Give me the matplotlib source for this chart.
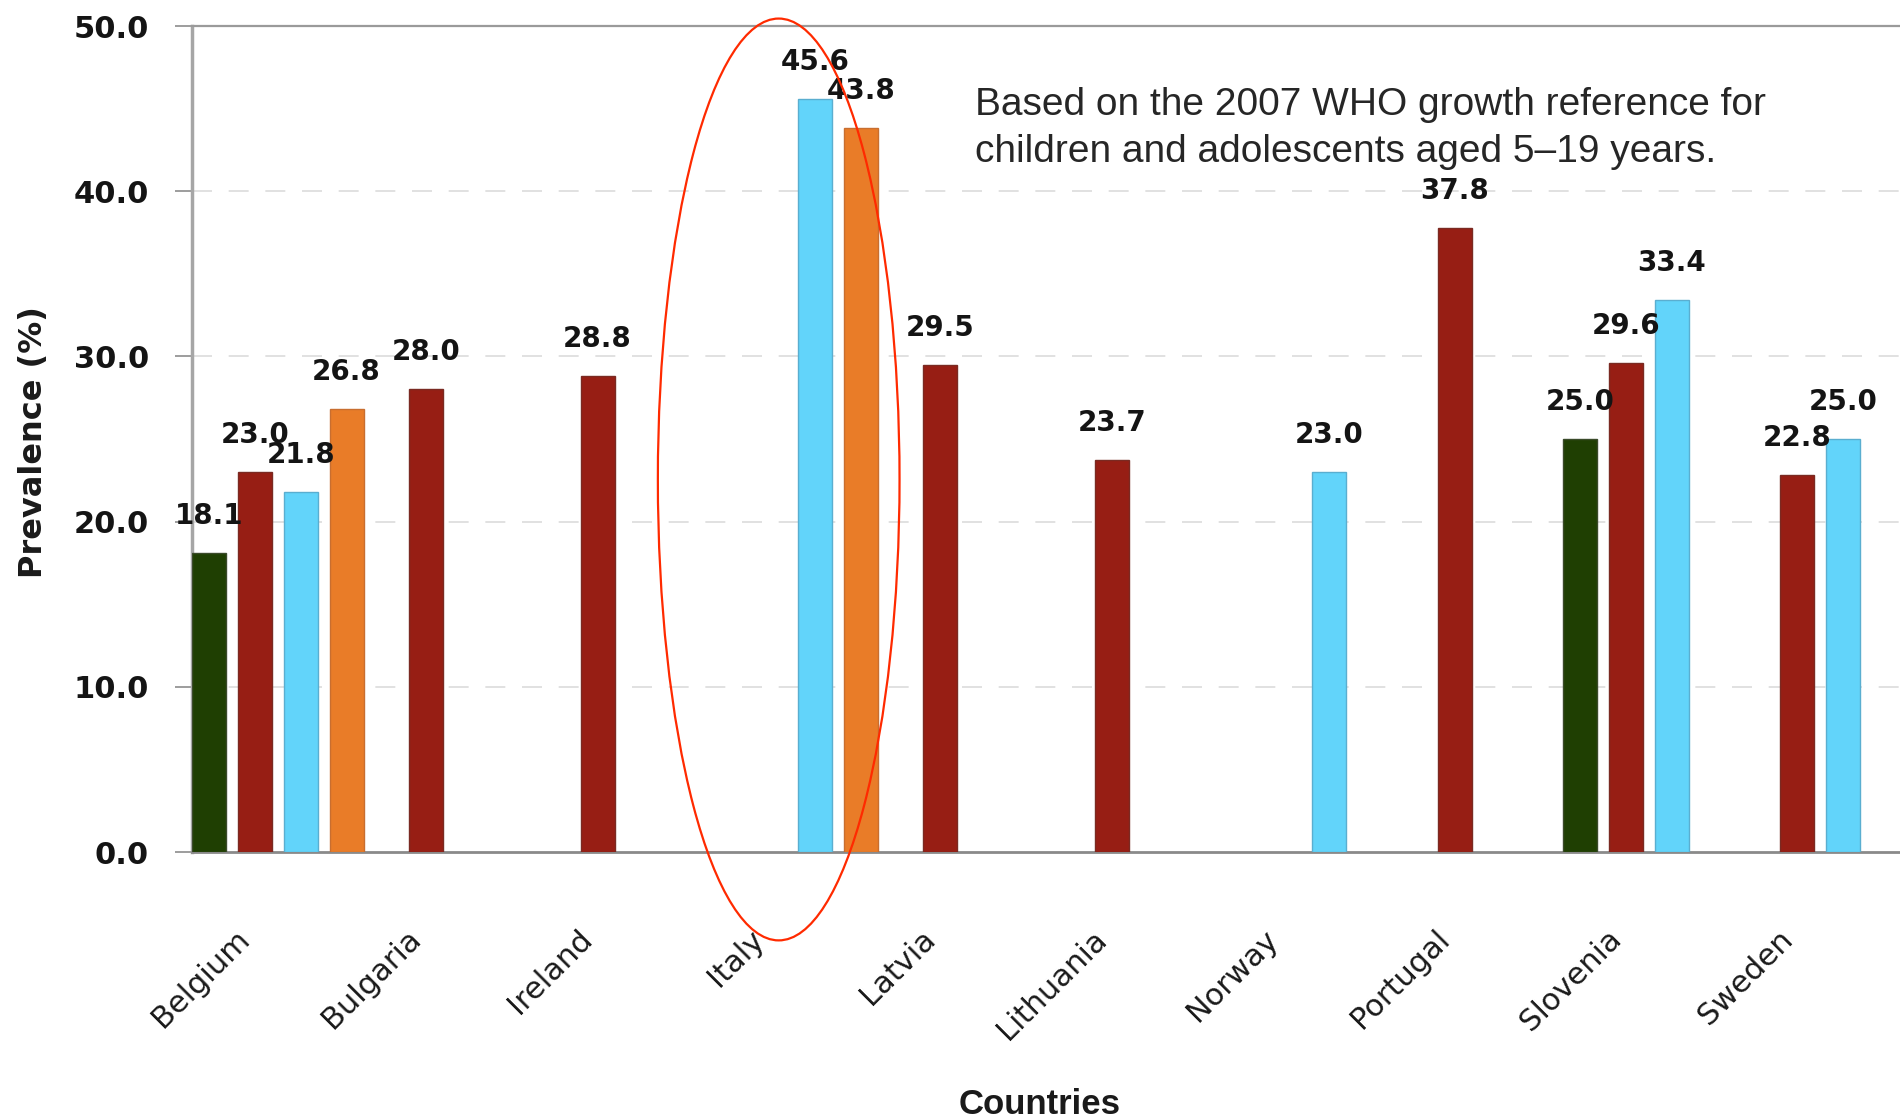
import numpy as np
import matplotlib
matplotlib.use("Agg")
import matplotlib.pyplot as plt
from matplotlib.patches import Ellipse
from matplotlib.transforms import blended_transform_factory

nan = np.nan

countries = ["Belgium", "Bulgaria", "Ireland", "Italy", "Latvia",
             "Lithuania", "Norway", "Portugal", "Slovenia", "Sweden"]

# Prevalence (%) per country; NaN where a series has no estimate
green_series = [18.1, nan, nan, nan, nan, nan, nan, nan, 25.0, nan]
red_series = [23.0, 28.0, 28.8, nan, 29.5, 23.7, nan, 37.8, 29.6, 22.8]
blue_series = [21.8, nan, nan, 45.6, nan, nan, 23.0, nan, 33.4, 25.0]
orange_series = [26.8, nan, nan, 43.8, nan, nan, nan, nan, nan, nan]

y_ticks = [0, 10, 20, 30, 40, 50]

note_lines = ["Based on the 2007 WHO growth reference for",
              "children and adolescents aged 5\u201319 years."]

series = [green_series, red_series, blue_series, orange_series]
colors = ["#1f3f02", "#971e14", "#62d4fa", "#e97c28"]
edges = ["#3a4a2a", "#7a2a22", "#5aaed0", "#c86e30"]

W, H = 1900, 1118
fig = plt.figure(figsize=(W / 100, H / 100), dpi=100)
ax = fig.add_axes([192 / W, 1 - 852 / H, 1714 / W, 826 / H])

slot = 0.268
width = 0.198
x = np.arange(len(countries))

for j, (vals, c, ec) in enumerate(zip(series, colors, edges)):
    vals = np.array(vals, dtype=float)
    pos = x + (j - 1.5) * slot
    mask = ~np.isnan(vals)
    ax.bar(pos[mask], vals[mask], width=width, color=c, edgecolor=ec,
           linewidth=1.0, zorder=3)
    for px, v in zip(pos[mask], vals[mask]):
        ax.annotate(f"{v:.1f}", (px, v), xytext=(0, 37), textcoords="offset pixels",
                    ha="center", va="center", fontsize=20, fontweight="bold",
                    family="DejaVu Sans", color="#141414", zorder=5)

ax.set_xlim(-0.5, 9.5)
ax.set_ylim(0, 50)
ax.set_yticks(y_ticks)
ax.set_yticklabels([f"{t:.1f}" for t in y_ticks], fontsize=22, fontweight="bold",
                   family="DejaVu Sans", color="#141414")
ax.tick_params(axis="y", length=12, width=1.2, color="#8c8c8c", pad=19)
ax.set_xticks([])

for yt in y_ticks[1:-1]:
    ax.axhline(yt, color="#dcdcdc", lw=1.2, ls=(0, (12, 10)), zorder=1)

ax.spines["right"].set_visible(False)
ax.spines["left"].set_color("#a6a6a6")
ax.spines["left"].set_linewidth(2.5)
ax.spines["bottom"].set_color("#8a8a8a")
ax.spines["bottom"].set_linewidth(2.0)
ax.spines["top"].set_color("#9a9a9a")
ax.spines["top"].set_linewidth(1.6)

# Rotated country names below the axis
trans = blended_transform_factory(ax.transData, ax.transAxes)
for i, name in enumerate(countries):
    ax.text(i - 0.19, -0.10, name, transform=trans, rotation=45,
            rotation_mode="anchor", ha="right", va="center",
            fontsize=22, family="DejaVu Sans", color="#1a1a1a")

fig.text(34 / W, 1 - 442 / H, "Prevalence (%)", rotation=90, ha="center",
         va="center", fontsize=23, fontweight="bold", family="DejaVu Sans",
         color="#1a1a1a")
fig.text(1040 / W, 1 - 1104 / H, "Countries", ha="center", va="center",
         fontsize=25, fontweight="bold",
         family=["Liberation Sans Narrow", "Liberation Sans"], color="#1a1a1a")

for k, line in enumerate(note_lines):
    fig.text(975 / W, 1 - (105 + 47 * k) / H, line, ha="left", va="center",
             fontsize=28, family="Liberation Sans", color="#262626")

# Highlight around the Italy bars
ell = Ellipse((2.923, 22.55), width=1.41, height=55.8, fill=False,
              edgecolor="#ff2a00", lw=1.6, clip_on=False, zorder=6)
ax.add_patch(ell)

fig.savefig("out.png", dpi=100)
